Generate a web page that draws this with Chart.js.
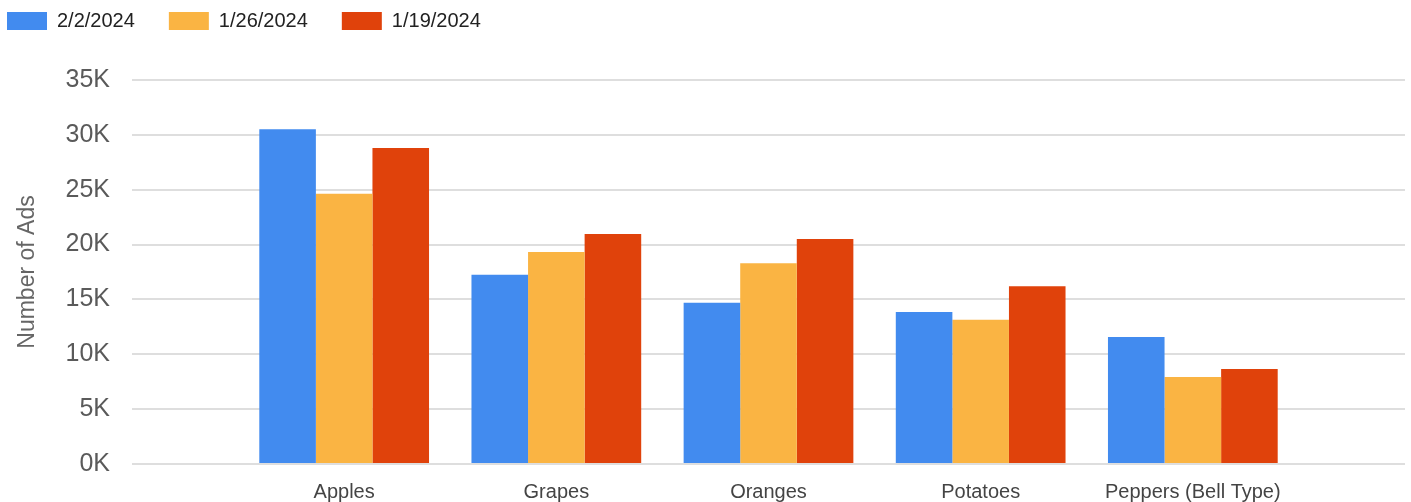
<!DOCTYPE html>
<html>
<head>
<meta charset="utf-8">
<script src="https://cdn.jsdelivr.net/npm/chart.js@4.4.1/dist/chart.umd.min.js"></script>
<style>
  html, body { margin: 0; padding: 0; background: #fff; }
  #wrap { width: 1411px; height: 502px; position: relative; }
</style>
</head>
<body>
<div id="wrap"><canvas id="adsChart"></canvas></div>
<script>
const categories = ['Apples', 'Grapes', 'Oranges', 'Potatoes', 'Peppers (Bell Type)'];
const seriesNames = ['2/2/2024', '1/26/2024', '1/19/2024'];
const feb2 = [30500, 17250, 14700, 13850, 11570];
const jan26 = [24640, 19320, 18290, 13150, 7930];
const jan19 = [28800, 20960, 20510, 16190, 8660];
const yTicks = [0, 5000, 10000, 15000, 20000, 25000, 30000, 35000];
const barColors = ['#428BEF', '#FAB443', '#E0420B'];

const FONT = "'Liberation Sans', Arial, sans-serif";

// the x axis runs half a group past the first and last category, so pad with empty slots
const xLabels = [''].concat(categories, ['']);
const pad = arr => [null].concat(arr, [null]);

// push the legend so its first swatch sits at the left edge like the original
const legendShift = {
  id: 'legendShift',
  afterLayout(chart) {
    const lg = chart.legend;
    lg.left -= 27; lg.right -= 27;
    const dy = -23 - lg.top;
    lg.top += dy; lg.bottom += dy;
  }
};

new Chart('adsChart', {
  type: 'bar',
  data: {
    labels: xLabels,
    datasets: [feb2, jan26, jan19].map((vals, i) => ({
      label: seriesNames[i],
      data: pad(vals),
      backgroundColor: barColors[i],
      borderWidth: 0,
      categoryPercentage: 0.8,
      barPercentage: 1.0
    }))
  },
  options: {
    responsive: true,
    maintainAspectRatio: false,
    animation: false,
    devicePixelRatio: 1,
    layout: { padding: { top: 16, right: 6, bottom: 0, left: 0 } },
    plugins: {
      tooltip: { enabled: false },
      legend: {
        position: 'top',
        align: 'start',
        labels: {
          boxWidth: 40,
          boxHeight: 18,
          padding: 34,
          color: '#222',
          font: { family: FONT, size: 20 }
        }
      }
    },
    scales: {
      x: {
        offset: false,
        grid: { display: false, drawTicks: false },
        border: { display: false },
        ticks: {
          autoSkip: false,
          maxRotation: 0,
          padding: 16,
          color: '#444',
          font: { family: FONT, size: 20 }
        },
        afterFit(scale) {
          scale.height = 38;
          scale.paddingLeft = 0;
          scale.paddingRight = 0;
        }
      },
      y: {
        min: 0,
        max: 35000,
        afterBuildTicks(scale) { scale.ticks = yTicks.map(v => ({ value: v })); },
        grid: { color: '#dedede', lineWidth: 2, drawTicks: false },
        border: { display: false },
        ticks: {
          padding: 22,
          color: '#5a5a5a',
          font: { family: FONT, size: 25 },
          callback: v => (v / 1000) + 'K'
        },
        title: {
          display: true,
          text: 'Number of Ads',
          color: '#666',
          font: { family: FONT, size: 23 },
          padding: { top: 14, bottom: 0 }
        },
        afterFit(scale) { scale.width = 132; }
      }
    }
  },
  plugins: [legendShift]
});
</script>
</body>
</html>
